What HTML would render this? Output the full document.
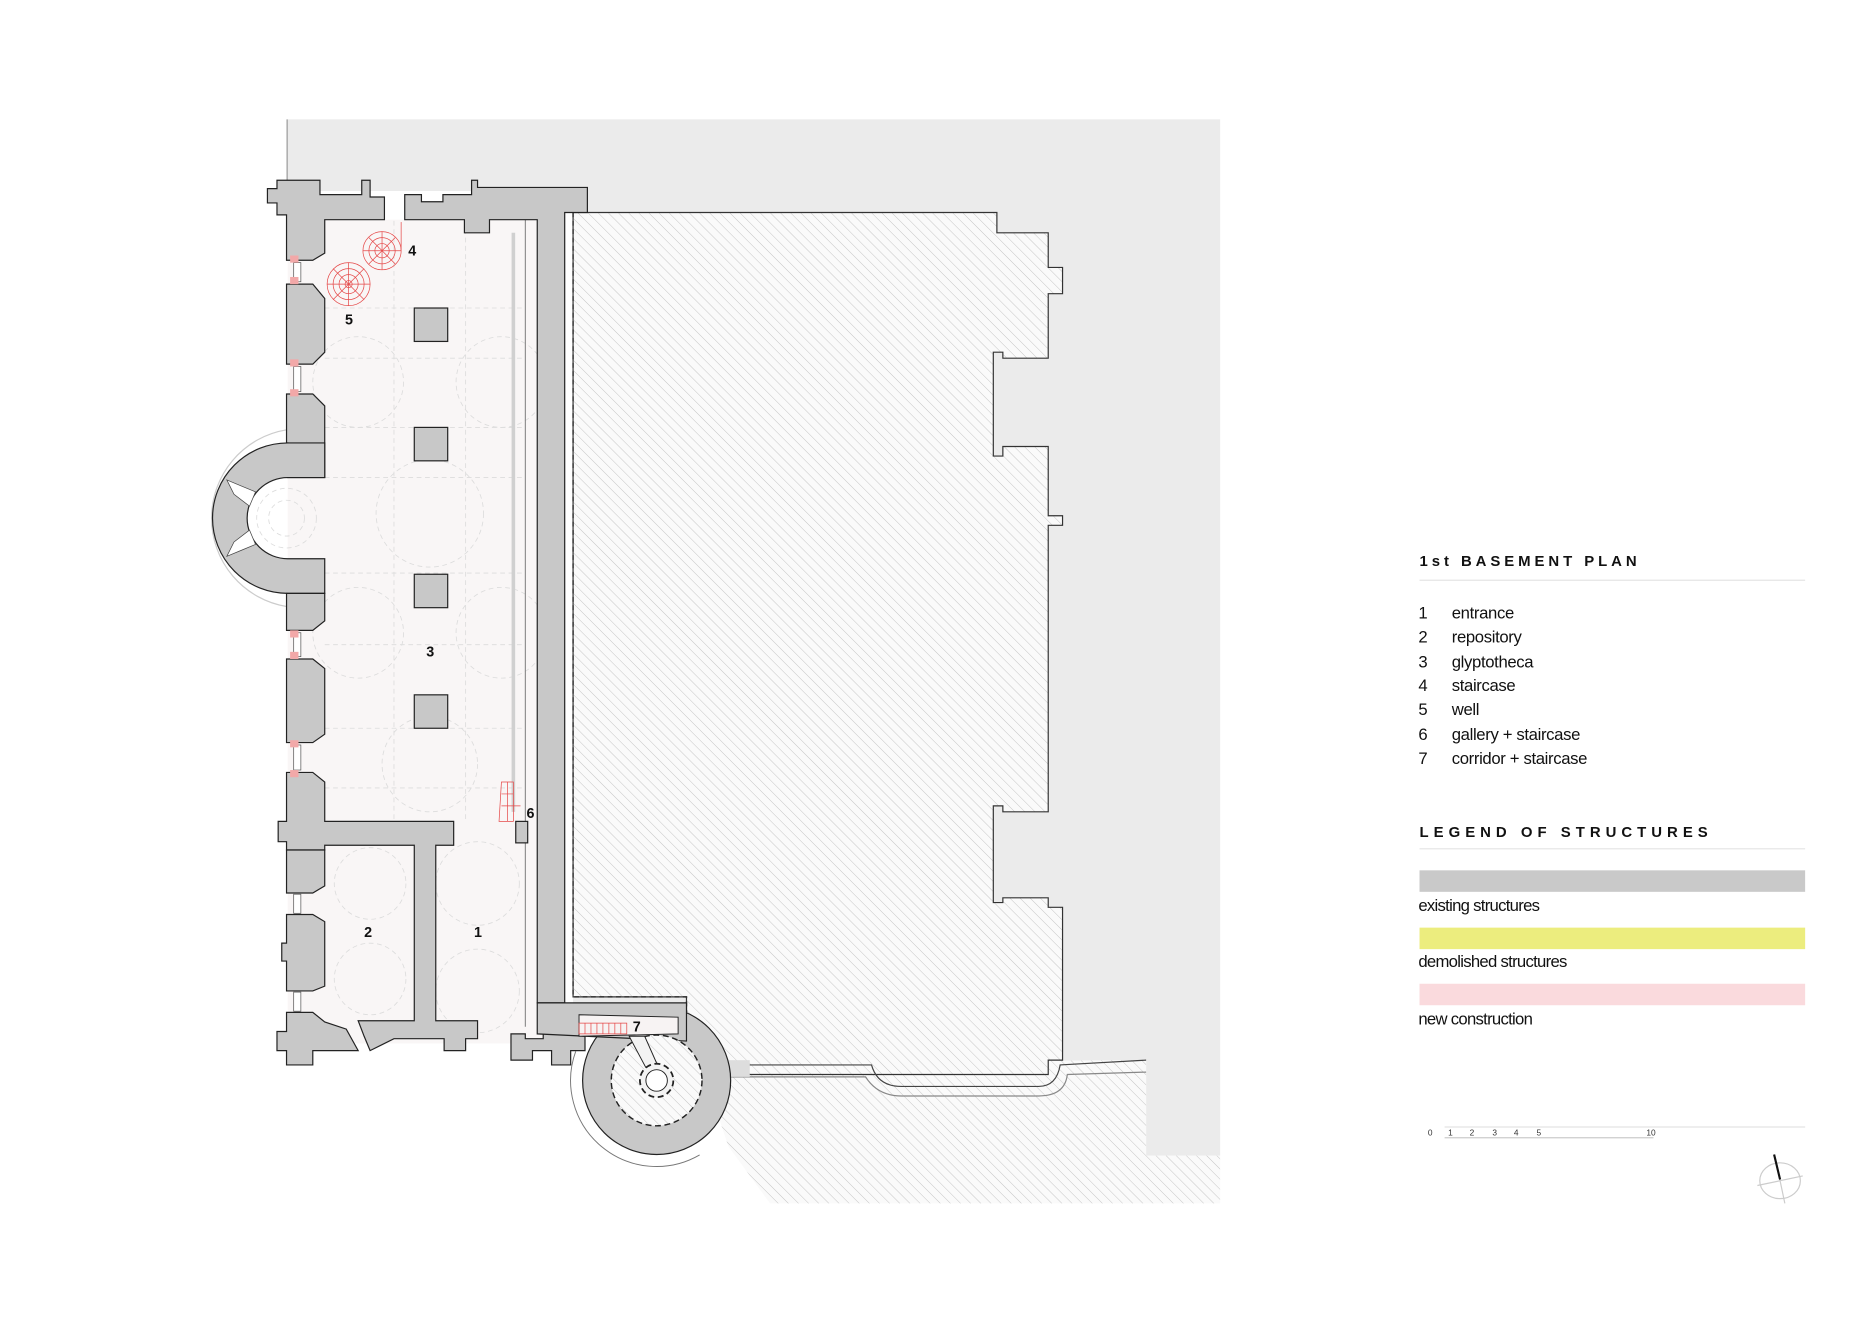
<!DOCTYPE html>
<html><head><meta charset="utf-8"><style>
html,body{margin:0;padding:0;background:#fff;}
svg{display:block}
</style></head><body>
<svg width="1872" height="1324" viewBox="0 0 1568 1109" preserveAspectRatio="none" xmlns="http://www.w3.org/2000/svg" font-family="Liberation Sans, Arial, sans-serif">
<defs>
<pattern id="h" patternUnits="userSpaceOnUse" width="6" height="6" patternTransform="rotate(-45)">
<rect width="6" height="6" fill="#fafafa"/><line x1="0" y1="0" x2="0" y2="6" stroke="#c4c4c4" stroke-width="0.8"/>
</pattern>
</defs>
<!-- site background -->
<polygon points="240,100 1022,100 1022,968 960,968 960,888 600,895 600,840 480,840 480,160 240,160" fill="#ebebeb"/>
<rect x="240" y="100" width="1" height="60" fill="#999"/>
<!-- hatched lower area -->
<polygon points="600,890 960,888 960,968 1022,968 1022,1008 645,1008 610,960 600,930" fill="url(#h)"/>
<!-- hatched building -->
<polygon points="480,178 835,178 835,195 878,195 878,224 890,224 890,246 878,246 878,300 840,300 840,295 832,295 832,382 840,382 840,374 878,374 878,432 890,432 890,440 878,440 878,680 840,680 840,675 832,675 832,756 840,756 840,752 878,752 878,760 890,760 890,888 878,888 878,900 575,900 575,835 480,835" fill="url(#h)" stroke="#333" stroke-width="1"/>
<polyline points="480,178 480,835 575,835 575,870" fill="none" stroke="#333" stroke-width="1.2" stroke-dasharray="4,3"/>
<rect x="473" y="178" width="6" height="660" fill="#fff"/>
<!-- bottom thin wall -->
<path d="M610,892 L730,892 Q735,910 755,910 L870,910 Q885,910 888,892 L960,888" fill="none" stroke="#444" stroke-width="1"/>
<path d="M610,902 L725,902 Q735,918 755,918 L870,918 Q892,918 894,900 L960,898" fill="none" stroke="#888" stroke-width="1"/>
<rect x="610" y="888" width="18" height="14" fill="#ddd"/>
<!-- interior floors -->
<rect x="241" y="184" width="214" height="690" fill="#f9f6f6"/>
<!-- faint vault lines -->
<g stroke="#dcdcdc" stroke-width="0.7" fill="none" stroke-dasharray="4,3">
<line x1="330" y1="185" x2="330" y2="688"/><line x1="390" y1="185" x2="390" y2="688"/>
<line x1="272" y1="258" x2="440" y2="258"/><line x1="272" y1="300" x2="440" y2="300"/><line x1="272" y1="358" x2="440" y2="358"/><line x1="272" y1="400" x2="440" y2="400"/><line x1="272" y1="480" x2="440" y2="480"/><line x1="272" y1="540" x2="440" y2="540"/><line x1="272" y1="610" x2="440" y2="610"/><line x1="272" y1="660" x2="440" y2="660"/>
<circle cx="300" cy="320" r="38"/><circle cx="420" cy="320" r="38"/><circle cx="360" cy="430" r="45"/><circle cx="300" cy="530" r="38"/><circle cx="420" cy="530" r="38"/><circle cx="360" cy="640" r="40"/><circle cx="400" cy="740" r="35"/><circle cx="400" cy="830" r="35"/><circle cx="310" cy="740" r="30"/><circle cx="310" cy="820" r="30"/>
<circle cx="240" cy="434" r="25"/><circle cx="240" cy="434" r="15"/>
</g>
<line x1="430" y1="195" x2="430" y2="680" stroke="#d0d0d0" stroke-width="3"/>
<line x1="440" y1="184" x2="440" y2="860" stroke="#777" stroke-width="0.8"/>
<!-- apse outer thin -->
<path d="M240,360 A75,75 0 0 0 240,508" fill="none" stroke="#ccc" stroke-width="1"/>
<!-- walls existing -->
<g fill="#c8c8c8" stroke="#222" stroke-width="1">
<polygon points="224,158 232,158 232,151 268,151 268,163 303,163 303,151 310,151 310,165 322,165 322,184 272,184 272,212 262,218 240,218 240,180 232,180 232,170 224,170"/>
<polygon points="339,165 339,163 353,163 353,169 371,169 371,163 395,163 395,151 400,151 400,157 492,157 492,178 473,178 473,840 450,840 450,184 410,184 410,195 389,195 389,184 339,184"/>
<polygon points="240,238 262,238 272,250 272,295 262,305 240,305"/>
<polygon points="240,330 262,330 272,340 272,400 241,400 241,371 240,371"/>
<path d="M241,371 A63,63 0 0 0 241,497 L272,497 L272,468 L241,468 A34,34 0 0 1 241,400 L272,400 L272,371 Z"/>
<polygon points="240,497 272,497 272,520 262,528 240,528"/>
<polygon points="240,552 262,552 272,560 272,615 262,622 240,622"/>
<polygon points="240,647 262,647 272,655 272,688 380,688 380,708 365,708 365,855 400,855 400,870 390,870 390,880 372,880 372,870 330,870 310,880 305,868 300,855 347,855 347,708 272,708 272,712 240,712 240,705 233,705 233,688 240,688"/>
<polygon points="240,712 272,712 272,742 262,748 240,748"/>
<polygon points="240,766 262,766 272,772 272,826 262,830 240,830 240,805 236,805 236,790 240,790"/>
<polygon points="240,848 262,848 272,856 290,862 300,880 262,880 262,892 240,892 240,880 232,880 232,864 240,864"/>
<polygon points="428,866 440,866 440,870 455,870 455,866 470,866 490,868 490,880 478,880 478,892 462,892 462,880 446,880 446,888 428,888"/>
<rect x="347" y="258" width="28" height="28"/><rect x="347" y="358" width="28" height="28"/><rect x="347" y="481" width="28" height="28"/><rect x="347" y="582" width="28" height="28"/>
<rect x="432" y="688" width="10" height="18"/>
<circle cx="550" cy="905" r="62"/>
<polygon points="450,840 575,840 575,872 450,866"/>
</g>
<polygon points="485,850 568,852 568,866 485,868" fill="#f7f3f3" stroke="#222" stroke-width="0.8"/>
<g fill="#fff" stroke="#444" stroke-width="0.6">
<polygon points="190,402 202,407 214,412 209,424 196,414"/>
<polygon points="190,466 202,461 214,456 209,444 196,454"/>
</g>
<circle cx="550" cy="905" r="38" fill="url(#h)" stroke="#222" stroke-width="1.2" stroke-dasharray="5,3"/>
<polygon points="527,868 540,868 552,895 543,898" fill="#f3f3f3" stroke="#222" stroke-width="0.8"/>
<circle cx="550" cy="905" r="14" fill="#f3f3f3" stroke="#222" stroke-width="1.5" stroke-dasharray="5,3"/>
<circle cx="550" cy="905" r="9" fill="#fff" stroke="#222" stroke-width="0.8"/>
<path d="M482.3,880.4 A72,72 0 0 0 586,967.4" fill="none" stroke="#777" stroke-width="0.8"/>
<g fill="#fff" stroke="#555" stroke-width="0.6">
<rect x="246" y="220" width="6" height="16"/><rect x="246" y="307" width="6" height="21"/><rect x="246" y="530" width="6" height="20"/><rect x="246" y="624" width="6" height="21"/><rect x="246" y="749" width="6" height="16"/><rect x="246" y="831" width="6" height="16"/>
</g>
<g stroke="#e54848" fill="none" stroke-width="0.6">
<circle cx="320" cy="210" r="16"/><circle cx="320" cy="210" r="11"/><circle cx="320" cy="210" r="6"/>
<line x1="304" y1="210" x2="336" y2="210"/><line x1="320" y1="194" x2="320" y2="226"/><line x1="309" y1="199" x2="331" y2="221"/><line x1="331" y1="199" x2="309" y2="221"/>
<line x1="336" y1="210" x2="336" y2="186"/>
<circle cx="292" cy="238" r="18"/><circle cx="292" cy="238" r="13"/><circle cx="292" cy="238" r="8"/><circle cx="292" cy="238" r="3"/>
<line x1="274" y1="238" x2="310" y2="238"/><line x1="292" y1="220" x2="292" y2="256"/><line x1="279" y1="225" x2="305" y2="251"/><line x1="305" y1="225" x2="279" y2="251"/>
<path d="M420,655 H430 V688 H418 Z M420,665 H430 M420,675 H436 M425,655 V688"/>
<path d="M485,857 H525 V866 H485 Z M490,857 V866 M495,857 V866 M500,857 V866 M505,857 V866 M510,857 V866 M515,857 V866 M520,857 V866"/>
</g>
<g fill="#f2a8a8"><rect x="243" y="214" width="7" height="6"/><rect x="243" y="232" width="7" height="6"/><rect x="243" y="301" width="7" height="6"/><rect x="243" y="326" width="7" height="6"/><rect x="243" y="528" width="7" height="6"/><rect x="243" y="546" width="7" height="6"/><rect x="243" y="620" width="7" height="6"/><rect x="243" y="645" width="7" height="6"/></g>
<g font-size="12" font-weight="bold" fill="#111">
<text x="342" y="214">4</text><text x="289" y="272">5</text><text x="357" y="550">3</text><text x="441" y="685">6</text><text x="305" y="785">2</text><text x="397" y="785">1</text><text x="530" y="864">7</text>
</g>
<text x="1189" y="474" font-size="12.5" font-weight="bold" letter-spacing="3.3" fill="#111">1st BASEMENT PLAN</text>
<line x1="1189" y1="486" x2="1512" y2="486" stroke="#e4e4e4"/>
<g font-size="14" fill="#111" letter-spacing="-0.3">
<text x="1188" y="518">1</text><text x="1216" y="518">entrance</text>
<text x="1188" y="538">2</text><text x="1216" y="538">repository</text>
<text x="1188" y="559">3</text><text x="1216" y="559">glyptotheca</text>
<text x="1188" y="579">4</text><text x="1216" y="579">staircase</text>
<text x="1188" y="599">5</text><text x="1216" y="599">well</text>
<text x="1188" y="620">6</text><text x="1216" y="620">gallery + staircase</text>
<text x="1188" y="640">7</text><text x="1216" y="640">corridor + staircase</text>
</g>
<text x="1189" y="701" font-size="12.5" font-weight="bold" letter-spacing="4.2" fill="#111">LEGEND OF STRUCTURES</text>
<line x1="1189" y1="711" x2="1512" y2="711" stroke="#e4e4e4"/>
<rect x="1189" y="729" width="323" height="18" fill="#c9c9c9"/>
<rect x="1189" y="777" width="323" height="18" fill="#eced7e"/>
<rect x="1189" y="824" width="323" height="18" fill="#fadadd"/>
<g font-size="14" fill="#111" letter-spacing="-0.6">
<text x="1188" y="763">existing structures</text>
<text x="1188" y="810">demolished structures</text>
<text x="1188" y="858">new construction</text>
</g>
<line x1="1210" y1="944" x2="1512" y2="944" stroke="#e4e4e4"/>
<line x1="1210" y1="953" x2="1385" y2="953" stroke="#ccc"/>
<g font-size="7" fill="#333"><text x="1196" y="951">0</text><text x="1213" y="951">1</text><text x="1231" y="951">2</text><text x="1250" y="951">3</text><text x="1268" y="951">4</text><text x="1287" y="951">5</text><text x="1379" y="951">10</text></g>
<ellipse cx="1491" cy="989" rx="17" ry="15" fill="none" stroke="#ccc"/>
<line x1="1472" y1="993" x2="1510" y2="985" stroke="#ccc"/>
<line x1="1487" y1="970" x2="1495" y2="1008" stroke="#ccc"/>
<line x1="1486" y1="967" x2="1491" y2="988" stroke="#111" stroke-width="1.8"/>
</svg>
</body></html>
